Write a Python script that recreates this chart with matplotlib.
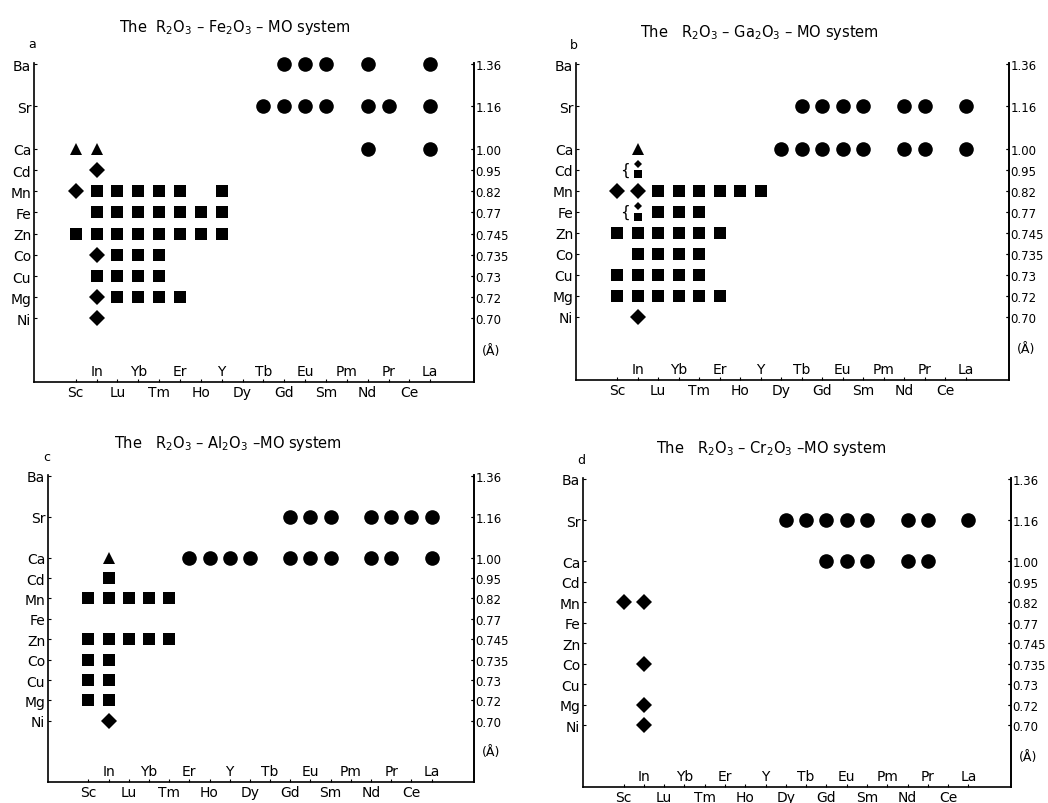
import matplotlib.pyplot as plt
from matplotlib.transforms import offset_copy

plt.rcParams['font.family'] = ['DejaVu Sans']
plt.rcParams['mathtext.fontset'] = 'dejavusans'

# R cations along the bottom, M cations (with radii) on the sides
R_ELEMENTS = ["Sc", "In", "Lu", "Yb", "Tm", "Er", "Ho", "Y", "Dy",
              "Tb", "Gd", "Eu", "Sm", "Pm", "Nd", "Pr", "Ce", "La"]
M_ELEMENTS = ["Ba", "Sr", "Ca", "Cd", "Mn", "Fe", "Zn", "Co", "Cu", "Mg", "Ni"]
M_LEVEL = [12, 10, 8, 7, 6, 5, 4, 3, 2, 1, 0]
M_RADII = ["1.36", "1.16", "1.00", "0.95", "0.82", "0.77",
           "0.745", "0.735", "0.73", "0.72", "0.70"]

# a: R2O3-Fe2O3-MO
A_CIRCLE = {"Ba": ["Gd", "Eu", "Sm", "Nd", "La"],
            "Sr": ["Tb", "Gd", "Eu", "Sm", "Nd", "Pr", "La"],
            "Ca": ["Nd", "La"]}
A_TRIANGLE = {"Ca": ["Sc", "In"]}
A_DIAMOND = {"Cd": ["In"], "Mn": ["Sc"], "Co": ["In"], "Mg": ["In"], "Ni": ["In"]}
A_SQUARE = {"Mn": ["In", "Lu", "Yb", "Tm", "Er", "Y"],
            "Fe": ["In", "Lu", "Yb", "Tm", "Er", "Ho", "Y"],
            "Zn": ["Sc", "In", "Lu", "Yb", "Tm", "Er", "Ho", "Y"],
            "Co": ["Lu", "Yb", "Tm"],
            "Cu": ["In", "Lu", "Yb", "Tm"],
            "Mg": ["Lu", "Yb", "Tm", "Er"]}

# b: R2O3-Ga2O3-MO
B_CIRCLE = {"Sr": ["Tb", "Gd", "Eu", "Sm", "Nd", "Pr", "La"],
            "Ca": ["Dy", "Tb", "Gd", "Eu", "Sm", "Nd", "Pr", "La"]}
B_TRIANGLE = {"Ca": ["In"]}
B_DIAMOND = {"Mn": ["Sc", "In"], "Ni": ["In"]}
B_SQUARE = {"Mn": ["Lu", "Yb", "Tm", "Er", "Ho", "Y"],
            "Fe": ["Lu", "Yb", "Tm"],
            "Zn": ["Sc", "In", "Lu", "Yb", "Tm", "Er"],
            "Co": ["In", "Lu", "Yb", "Tm"],
            "Cu": ["Sc", "In", "Lu", "Yb", "Tm"],
            "Mg": ["Sc", "In", "Lu", "Yb", "Tm", "Er"]}
B_PAIR = {"Cd": ["In"], "Fe": ["In"]}

# c: R2O3-Al2O3-MO
C_CIRCLE = {"Sr": ["Gd", "Eu", "Sm", "Nd", "Pr", "Ce", "La"],
            "Ca": ["Er", "Ho", "Y", "Dy", "Gd", "Eu", "Sm", "Nd", "Pr", "La"]}
C_TRIANGLE = {"Ca": ["In"]}
C_DIAMOND = {"Ni": ["In"]}
C_SQUARE = {"Cd": ["In"],
            "Mn": ["Sc", "In", "Lu", "Yb", "Tm"],
            "Zn": ["Sc", "In", "Lu", "Yb", "Tm"],
            "Co": ["Sc", "In"], "Cu": ["Sc", "In"], "Mg": ["Sc", "In"]}

# d: R2O3-Cr2O3-MO
D_CIRCLE = {"Sr": ["Dy", "Tb", "Gd", "Eu", "Sm", "Nd", "Pr", "La"],
            "Ca": ["Gd", "Eu", "Sm", "Nd", "Pr"]}
D_DIAMOND = {"Mn": ["Sc", "In"], "Co": ["In"], "Mg": ["In"], "Ni": ["In"]}

PANELS = [
    ("a", r"The  R$_2$O$_3$ – Fe$_2$O$_3$ – MO system",
     [0.0324, 0.5236, 0.4200, 0.3968], (0.457, 1.115),
     A_CIRCLE, A_SQUARE, A_DIAMOND, A_TRIANGLE, {}),
    ("b", r"The   R$_2$O$_3$ – Ga$_2$O$_3$ – MO system",
     [0.5496, 0.5260, 0.4132, 0.3940], (0.423, 1.10),
     B_CIRCLE, B_SQUARE, B_DIAMOND, B_TRIANGLE, B_PAIR),
    ("c", r"The   R$_2$O$_3$ – Al$_2$O$_3$ –MO system",
     [0.0458, 0.0260, 0.4065, 0.3820], (0.423, 1.105),
     C_CIRCLE, C_SQUARE, C_DIAMOND, C_TRIANGLE, {}),
    ("d", r"The   R$_2$O$_3$ – Cr$_2$O$_3$ –MO system",
     [0.5563, 0.0200, 0.4084, 0.3843], (0.439, 1.10),
     D_CIRCLE, {}, D_DIAMOND, {}, {}),
]

level = dict(zip(M_ELEMENTS, M_LEVEL))
xpos = {r: i for i, r in enumerate(R_ELEMENTS)}


def draw_points(ax, groups, marker, ms, dy=0.0):
    xs, ys = [], []
    for m, rs in groups.items():
        for r in rs:
            xs.append(xpos[r])
            ys.append(level[m] + dy)
    ax.plot(xs, ys, linestyle='none', marker=marker, ms=ms, color='black',
            markeredgewidth=0, clip_on=False)


fig = plt.figure(figsize=(10.48, 8.04), dpi=100)

for letter, title, rect, tpos, circ, sq, dia, tri, pair in PANELS:
    ax = fig.add_axes(rect)
    ax.set_xlim(-2, 19.1)
    ax.set_ylim(-3, 12.05)
    for side in ('left', 'right', 'bottom'):
        ax.spines[side].set_linewidth(1.2)
    ax.spines['top'].set_visible(False)

    ax.set_yticks(M_LEVEL)
    ax.set_yticklabels(M_ELEMENTS, fontsize=10)
    ax.tick_params(axis='y', direction='in', length=2, width=0.8, pad=2,
                   right=True, labelright=False)
    sec = ax.secondary_yaxis('right')
    sec.set_yticks(M_LEVEL)
    sec.set_yticklabels(M_RADII, fontsize=8.5)
    sec.spines['right'].set_linewidth(1.2)
    sec.tick_params(direction='in', length=2, width=0.8, pad=1)

    ax.set_xticks(range(len(R_ELEMENTS)))
    ax.set_xticklabels([])
    ax.tick_params(axis='x', direction='in', length=2, width=0.8)
    for i, r in enumerate(R_ELEMENTS):
        if i % 2:
            ax.annotate(r, (i, 0), xycoords=('data', 'axes fraction'),
                        xytext=(0, 8), textcoords='offset points',
                        ha='center', va='center', fontsize=10)
        else:
            ax.annotate(r, (i, 0), xycoords=('data', 'axes fraction'),
                        xytext=(0, -7), textcoords='offset points',
                        ha='center', va='center', fontsize=10)

    ax.annotate("(Å)", (1, -1.5), xycoords=('axes fraction', 'data'),
                xytext=(12, 0), textcoords='offset points',
                ha='center', va='center', fontsize=9)
    ax.text(tpos[0], tpos[1], title, transform=ax.transAxes,
            ha='center', va='center', fontsize=10.5)
    ax.text(-0.004, 1.06, letter, transform=ax.transAxes,
            ha='center', va='center', fontsize=9)

    draw_points(ax, circ, 'o', 10.5)
    draw_points(ax, sq, 's', 8.6)
    draw_points(ax, dia, 'D', 8.0)
    draw_points(ax, tri, '^', 9.0)
    if pair:
        draw_points(ax, pair, 'D', 4.2, dy=0.28)
        draw_points(ax, pair, 's', 5.8, dy=-0.23)
        for m, rs in pair.items():
            for r in rs:
                ax.annotate("{", (xpos[r], level[m]), xytext=(-9, 0),
                            textcoords='offset points', ha='center',
                            va='center', fontsize=11)

fig.savefig("out.png", dpi=100)
